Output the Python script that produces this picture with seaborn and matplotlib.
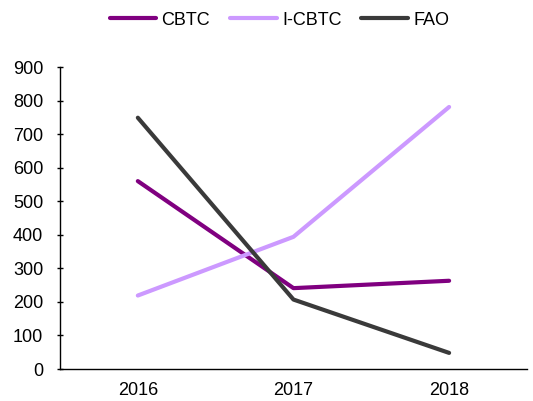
import matplotlib
matplotlib.use("Agg")
import matplotlib.pyplot as plt
import seaborn as sns
import pandas as pd

years = ["2016", "2017", "2018"]
series_names = ["CBTC", "I-CBTC", "FAO"]
cbtc = [560, 241, 263]
i_cbtc = [219, 394, 781]
fao = [749, 207, 48]
colors = ["#800080", "#CC99FF", "#3A3A3A"]
y_ticks = [0, 100, 200, 300, 400, 500, 600, 700, 800, 900]

sns.set_style("white")
plt.rcParams["font.family"] = ["Liberation Sans", "DejaVu Sans"]
plt.rcParams["text.color"] = "black"
plt.rcParams["xtick.color"] = "black"
plt.rcParams["ytick.color"] = "black"

FS = 13

rows = []
for name, vals in zip(series_names, [cbtc, i_cbtc, fao]):
    for i, (yr, v) in enumerate(zip(years, vals)):
        rows.append({"pos": i, "year": yr, "series": name, "value": v})
df = pd.DataFrame(rows)

fig = plt.figure(figsize=(5.33, 4.01), dpi=100)
ax = fig.add_axes([0.1126, 0.0798, 0.876, 0.753])

sns.lineplot(data=df, x="pos", y="value", hue="series", hue_order=series_names,
             palette=colors, linewidth=3, ax=ax, legend=True)
for line in ax.lines:
    line.set_solid_capstyle("round")

ax.set_xlim(-0.5, 2.5)
ax.set_ylim(0, 900)
ax.set_yticks(y_ticks)
ax.set_yticklabels([str(t) for t in y_ticks], fontsize=FS)
ax.set_xticks(range(len(years)))
ax.set_xticklabels(years, fontsize=FS)
ax.set_xticks([0.5, 1.5], minor=True)
ax.tick_params(axis="x", which="major", length=0, pad=9, labelcolor="black")
ax.tick_params(axis="x", which="minor", direction="in", length=6, width=1, color="black")
ax.tick_params(axis="y", which="major", direction="inout", length=5, width=1, color="black",
               pad=9.5, left=True, labelcolor="black")
ax.set_xlabel("")
ax.set_ylabel("")

for side in ["top", "right"]:
    ax.spines[side].set_visible(False)
for side in ["left", "bottom"]:
    ax.spines[side].set_color("black")
    ax.spines[side].set_linewidth(1)

handles, labels = ax.get_legend_handles_labels()
leg = ax.legend(handles, labels, loc="center", bbox_to_anchor=(0.470, 1.1556),
                ncol=3, frameon=False, fontsize=FS, handlelength=2.6,
                handletextpad=0.28, columnspacing=1.1)
for t in leg.get_texts():
    t.set_color("black")
for h in leg.get_lines():
    h.set_linewidth(3)
    h.set_solid_capstyle("round")

fig.savefig("out.png", dpi=100, facecolor="white")
